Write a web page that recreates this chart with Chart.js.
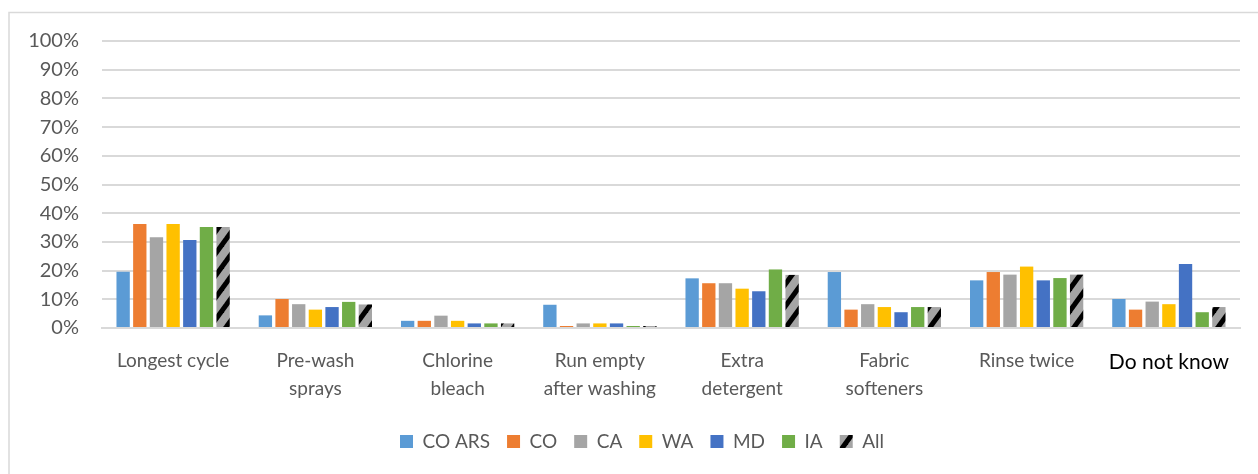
<!DOCTYPE html>
<html>
<head>
<meta charset="utf-8">
<script src="https://cdn.jsdelivr.net/npm/chart.js@4"></script>
<style>
  html, body { margin: 0; padding: 0; background: #ffffff; }
  #wrap { width: 1258px; height: 474px; position: relative; }
</style>
</head>
<body>
<div id="wrap"><canvas id="chart" width="1258" height="474"></canvas></div>
<script>
// Categories (multi-line labels)
const categories = [
  'Longest cycle',
  ['Pre-wash', 'sprays'],
  ['Chlorine', 'bleach'],
  ['Run empty', 'after washing'],
  ['Extra', 'detergent'],
  ['Fabric', 'softeners'],
  'Rinse twice',
  'Do not know'
];

// Share of respondents (%) per group
const coArs = [19.6, 4.4, 2.5, 8.1, 17.3, 19.5, 16.6, 10.1];
const co    = [36.2, 10.1, 2.5, 0.7, 15.6, 6.4, 19.5, 6.4];
const ca    = [31.6, 8.3, 4.3, 1.6, 15.6, 8.3, 18.6, 9.2];
const wa    = [36.2, 6.4, 2.5, 1.6, 13.7, 7.3, 21.4, 8.3];
const md    = [30.7, 7.3, 1.6, 1.6, 12.8, 5.5, 16.6, 22.3];
const ia    = [35.2, 9.1, 1.6, 0.7, 20.4, 7.3, 17.4, 5.5];
const all   = [35.2, 8.2, 1.6, 0.7, 18.5, 7.3, 18.6, 7.3];

const yTicks = [0, 10, 20, 30, 40, 50, 60, 70, 80, 90, 100];

// Gray fill with wide black upward diagonal stripes
function stripePattern() {
  const w = 16, h = 22;
  const c = document.createElement('canvas');
  c.width = w; c.height = h;
  const g = c.getContext('2d');
  g.fillStyle = '#a5a5a5';
  g.fillRect(0, 0, w, h);
  g.strokeStyle = '#000000';
  g.lineWidth = 5;
  for (let k = -1; k <= 2; k++) {
    g.beginPath();
    g.moveTo(-w, h * k + h * 2);
    g.lineTo(2 * w, h * k - h);
    g.stroke();
  }
  return g.createPattern(c, 'repeat');
}

const ctx = document.getElementById('chart').getContext('2d');
const pat = stripePattern();

// Thin frame along the left and top edges
const framePlugin = {
  id: 'frame',
  beforeDraw(chart) {
    const g = chart.ctx;
    g.save();
    g.strokeStyle = '#d9d9d9';
    g.lineWidth = 1.5;
    g.beginPath();
    g.moveTo(9, 474);
    g.lineTo(9, 12.5);
    g.lineTo(1258, 12.5);
    g.stroke();
    g.restore();
  }
};

// Center the legend under the plot area rather than the whole canvas
const legendCenterPlugin = {
  id: 'legendCenter',
  afterLayout(chart) {
    if (chart.legend) {
      chart.legend.left = chart.chartArea.left - 58;
      chart.legend.right = chart.chartArea.right;
    }
  }
};

const FONT = 'Lato, "Open Sans", "Liberation Sans", sans-serif';

new Chart(ctx, {
  type: 'bar',
  data: {
    labels: categories,
    datasets: [
      { label: 'CO ARS', data: coArs, backgroundColor: '#5b9bd5' },
      { label: 'CO',     data: co,    backgroundColor: '#ed7d31' },
      { label: 'CA',     data: ca,    backgroundColor: '#a5a5a5' },
      { label: 'WA',     data: wa,    backgroundColor: '#ffc000' },
      { label: 'MD',     data: md,    backgroundColor: '#4472c4' },
      { label: 'IA',     data: ia,    backgroundColor: '#70ad47' },
      { label: 'All',    data: all,   backgroundColor: pat }
    ]
  },
  options: {
    responsive: false,
    animation: false,
    devicePixelRatio: 1,
    datasets: {
      bar: { categoryPercentage: 0.82, barPercentage: 0.8, borderWidth: 0 }
    },
    layout: { padding: { top: 41, right: 18, bottom: 13, left: 0 } },
    plugins: {
      tooltip: { enabled: false },
      legend: {
        position: 'bottom',
        labels: {
          boxWidth: 13,
          boxHeight: 13,
          padding: 17,
          color: '#595959',
          font: { family: FONT, size: 19 }
        }
      }
    },
    scales: {
      x: {
        grid: { display: false, drawTicks: false },
        border: { display: true, color: '#d9d9d9', width: 2 },
        ticks: {
          maxRotation: 0,
          autoSkip: false,
          padding: 19,
          color: (c) => c.index === 7 ? '#000000' : '#595959',
          font: (c) => ({ family: FONT, size: c.index === 7 ? 21 : 19, lineHeight: 1.47 })
        },
        afterFit(scale) { scale.height = 87; }
      },
      y: {
        min: 0,
        max: 100,
        afterBuildTicks(scale) { scale.ticks = yTicks.map(v => ({ value: v })); },
        grid: { color: '#d9d9d9', lineWidth: 2, drawTicks: false },
        border: { display: false },
        ticks: {
          padding: 23,
          color: '#595959',
          font: { family: FONT, size: 20 },
          callback: (v) => v + '%'
        },
        afterFit(scale) { scale.width = 102; }
      }
    }
  },
  plugins: [framePlugin, legendCenterPlugin]
});
</script>
</body>
</html>
